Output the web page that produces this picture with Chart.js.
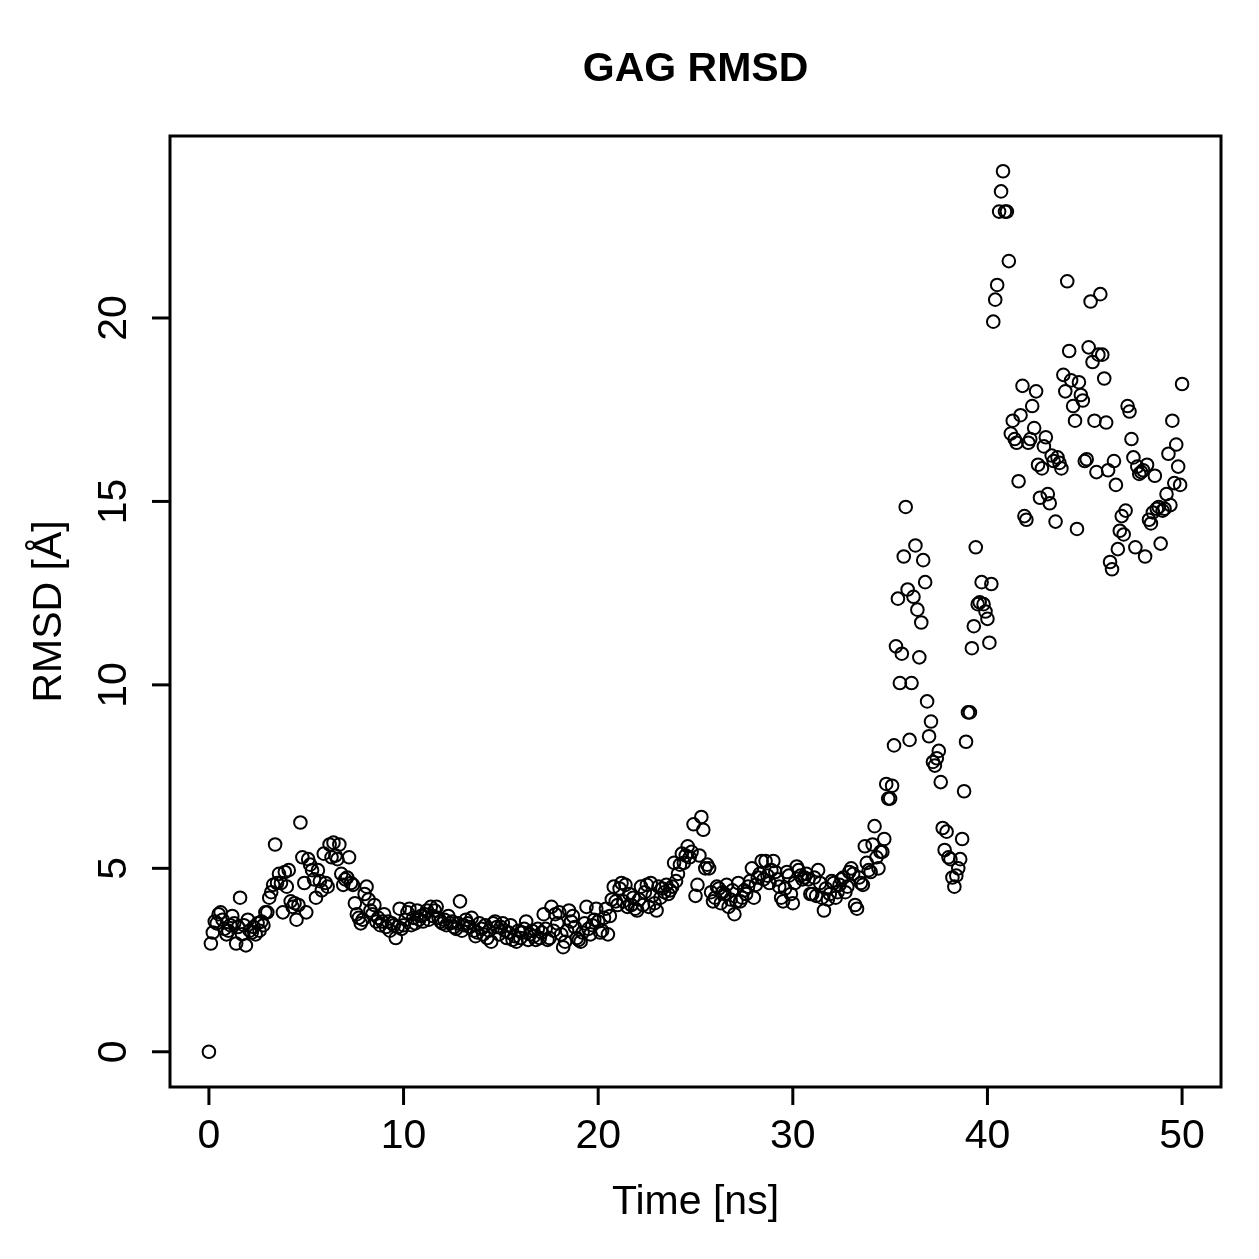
<!DOCTYPE html>
<html>
<head>
<meta charset="utf-8">
<title>GAG RMSD</title>
<script src="https://cdn.jsdelivr.net/npm/chart.js@4.4.0/dist/chart.umd.min.js"></script>
<style>
    body { margin: 0; background: #ffffff; }
    canvas { display: block; }
</style>
</head>
<body>
<canvas id="rmsd" width="1259" height="1259"></canvas>
<script>
// Data (RMSD in Angstrom, one sample every 0.1 ns)
const timeStep = 0.1;
const rmsd0to10 = [
    0, 2.95, 3.25, 3.55, 3.5, 3.75, 3.8, 3.6, 3.35, 3.2,
    3.3, 3.45, 3.7, 3.5, 2.95, 3.4, 4.2, 3.2, 3.45, 2.9,
    3.6, 3.3, 3.25, 3.4, 3.2, 3.5, 3.3, 3.55, 3.45, 3.8,
    3.8, 4.2, 4.35, 4.55, 5.65, 4.6, 4.85, 4.6, 3.8, 4.9,
    4.5, 4.95, 4.1, 3.95, 4.05, 3.6, 4.0, 6.25, 5.3, 4.6,
    3.8, 5.25, 5.1, 4.95, 4.7, 4.2, 4.95, 4.65, 4.4, 5.4,
    4.6, 4.5, 5.65, 5.3, 5.7, 5.35, 5.25, 5.65, 4.85, 4.55,
    4.7, 4.75, 5.3, 4.6, 4.55, 4.05, 3.75, 3.65, 3.5, 3.6,
    4.3, 4.5, 4.15, 3.85, 3.75, 4.0, 3.55, 3.65, 3.45, 3.55,
    3.75, 3.4, 3.55, 3.3, 3.5, 3.45, 3.1, 3.4, 3.9, 3.35
];
const rmsd10to20 = [
    3.45, 3.6, 3.8, 3.9, 3.45, 3.65, 3.5, 3.85, 3.6, 3.7,
    3.55, 3.75, 3.85, 3.6, 3.95, 3.7, 3.85, 3.95, 3.65, 3.55,
    3.5, 3.6, 3.45, 3.7, 3.5, 3.55, 3.4, 3.35, 3.5, 4.1,
    3.3, 3.45, 3.6, 3.5, 3.4, 3.65, 3.3, 3.15, 3.25, 3.5,
    3.35, 3.2, 3.45, 3.1, 3.3, 3.0, 3.5, 3.55, 3.4, 3.2,
    3.4, 3.5, 3.3, 3.1, 3.25, 3.45, 3.05, 3.15, 3.0, 3.3,
    3.1, 3.25, 3.35, 3.55, 3.05, 3.2, 3.3, 3.15, 3.05, 3.35,
    3.1, 3.25, 3.75, 3.35, 3.05, 3.1, 3.95, 3.3, 3.75, 3.5,
    3.8, 3.2, 2.85, 3.0, 3.3, 3.85, 3.55, 3.7, 3.4, 3.1,
    3.05, 3.0, 3.25, 3.5, 3.95, 3.35, 3.2, 3.45, 3.6, 3.9
];
const rmsd20to30 = [
    3.55, 3.25, 3.3, 3.65, 3.9, 3.2, 3.7, 4.15, 4.5, 4.1,
    4.0, 4.45, 4.6, 4.1, 4.55, 3.95, 4.3, 4.0, 4.2, 3.9,
    3.85, 4.15, 4.5, 4.0, 4.35, 4.55, 3.95, 4.6, 4.25, 4.05,
    3.85, 4.5, 4.2, 4.45, 4.35, 4.55, 4.3, 4.4, 4.5, 5.15,
    4.65, 4.85, 5.1, 5.4, 5.15, 5.35, 5.6, 5.3, 5.45, 6.2,
    4.25, 4.55, 5.35, 6.4, 6.05, 5.0, 5.1, 5.0, 4.35, 4.1,
    4.2, 4.5, 4.45, 4.05, 4.35, 4.3, 4.55, 3.95, 4.15, 4.4,
    3.75, 4.1, 4.6, 4.1, 4.2, 4.4, 4.3, 4.5, 4.65, 5.0,
    4.2, 4.55, 4.75, 4.85, 5.2, 4.7, 5.2, 4.8, 4.6, 4.95,
    5.2, 4.9, 4.7, 4.5, 4.2, 4.1, 4.45, 4.9, 4.8, 4.3
];
const rmsd30to40 = [
    4.05, 4.6, 5.05, 4.95, 4.8, 4.7, 4.75, 4.85, 4.7, 4.3,
    4.3, 4.75, 4.25, 4.95, 4.6, 4.2, 3.85, 4.45, 4.15, 4.3,
    4.65, 4.6, 4.2, 4.35, 4.55, 4.7, 4.75, 4.35, 4.5, 4.9,
    5.0, 4.85, 4.0, 3.9, 4.75, 4.6, 4.55, 5.6, 5.15, 4.95,
    4.9, 5.65, 6.15, 5.3, 5.0, 5.45, 5.45, 5.8, 7.3, 6.9,
    6.9, 7.25, 8.35, 11.05, 12.35, 10.05, 10.85, 13.5, 14.85, 12.6,
    8.5, 10.05, 12.4, 13.8, 12.05, 10.75, 11.7, 13.4, 12.8, 9.55,
    8.6, 9.0, 7.9, 7.8, 8.0, 8.2, 7.35, 6.1, 5.5, 6.0,
    5.3, 5.25, 4.75, 4.5, 4.8, 5.0, 5.25, 5.8, 7.1, 8.45,
    9.25, 9.25, 11.0, 11.6, 13.75, 12.2, 12.25, 12.8, 12.2, 12.0
];
const rmsd40to50 = [
    11.8, 11.15, 12.75, 19.9, 20.5, 20.9, 22.9, 23.45, 24.0, 22.9,
    22.9, 21.55, 16.85, 17.2, 16.7, 16.6, 15.55, 17.35, 18.15, 14.6,
    14.5, 16.6, 16.7, 17.6, 17.0, 18.0, 16.0, 15.1, 15.9, 16.5,
    16.75, 15.2, 14.95, 16.25, 16.1, 14.45, 16.2, 16.05, 15.9, 18.45,
    18.0, 21.0, 19.1, 18.3, 17.6, 17.2, 14.25, 18.25, 17.9, 17.75,
    16.1, 16.15, 19.2, 20.45, 18.8, 17.2, 15.8, 19.0, 20.65, 19.0,
    18.35, 17.15, 15.85, 13.35, 13.15, 16.1, 15.45, 13.7, 14.2, 14.6,
    14.1, 14.75, 17.6, 17.45, 16.7, 16.2, 13.75, 15.95, 15.75, 15.8,
    15.85, 13.5, 16.0, 14.5, 14.4, 14.7, 15.7, 14.8, 14.85, 13.85,
    14.75, 14.8, 15.2, 16.3, 14.9, 17.2, 15.5, 16.55, 15.95, 15.45,
    18.2
];

// Axis
const xTicks = [0, 10, 20, 30, 40, 50];
const yTicks = [0, 5, 10, 15, 20];
const chartTitle = "GAG RMSD";
const xTitle = "Time [ns]";
const yTitle = "RMSD [Å]";

// Build points
const rmsd = [...rmsd0to10, ...rmsd10to20, ...rmsd20to30, ...rmsd30to40, ...rmsd40to50];
const points = rmsd.map((value, i) => ({x: Math.round(i * timeStep * 10) / 10, y: value}));

// Plugin: R style box, ticks and labels
const baseFont = '"Liberation Sans", Arial, Helvetica, sans-serif';
const rAxesPlugin = {
    id: "rAxes",
    beforeDraw: (chart) => {
        let ctx = chart.ctx;
        ctx.save();
        ctx.fillStyle = "#ffffff";
        ctx.fillRect(0, 0, chart.width, chart.height);
        ctx.restore();
    },
    afterDraw: (chart) => {
        let ctx = chart.ctx;
        let area = chart.chartArea;
        let xScale = chart.scales.x;
        let yScale = chart.scales.y;
        let tickLen = 18;
        ctx.save();
        ctx.strokeStyle = "#000000";
        ctx.fillStyle = "#000000";
        ctx.lineWidth = 3;
        ctx.lineCap = "butt";
        ctx.strokeRect(area.left, area.top, area.right - area.left, area.bottom - area.top);

        // x ticks
        ctx.font = "41px " + baseFont;
        ctx.textAlign = "center";
        ctx.textBaseline = "middle";
        xTicks.forEach(t => {
            let px = xScale.getPixelForValue(t);
            ctx.beginPath();
            ctx.moveTo(px, area.bottom);
            ctx.lineTo(px, area.bottom + tickLen);
            ctx.stroke();
            ctx.fillText(String(t), px, 1137);
        });

        // y ticks
        yTicks.forEach(t => {
            let py = yScale.getPixelForValue(t);
            ctx.beginPath();
            ctx.moveTo(area.left, py);
            ctx.lineTo(area.left - tickLen, py);
            ctx.stroke();
            ctx.save();
            ctx.translate(115, py);
            ctx.rotate(-Math.PI / 2);
            ctx.fillText(String(t), 0, 0);
            ctx.restore();
        });

        // titles
        let midX = (area.left + area.right) / 2;
        let midY = (area.top + area.bottom) / 2;
        ctx.fillText(xTitle, midX, 1203);
        ctx.save();
        ctx.translate(50, midY);
        ctx.rotate(-Math.PI / 2);
        ctx.fillText(yTitle, 0, 0);
        ctx.restore();

        ctx.font = "bold 41px " + baseFont;
        ctx.fillText(chartTitle, midX, 70);
        ctx.restore();
    }
};

// Chart
new Chart(document.querySelector("#rmsd"), {
    type: "scatter",
    data: {
        datasets: [{
            label: "RMSD",
            data: points,
            pointStyle: "circle",
            pointRadius: 6.3,
            pointHoverRadius: 6.3,
            borderWidth: 2,
            borderColor: "#000000",
            backgroundColor: "rgba(0,0,0,0)"
        }]
    },
    options: {
        responsive: false,
        devicePixelRatio: 1,
        animation: false,
        layout: {
            padding: {left: 170, right: 38, top: 136, bottom: 172}
        },
        scales: {
            x: {type: "linear", min: -2, max: 52, display: false},
            y: {type: "linear", min: -0.96, max: 24.96, display: false}
        },
        plugins: {
            legend: {display: false},
            tooltip: {enabled: false}
        }
    },
    plugins: [rAxesPlugin]
});
</script>
</body>
</html>
